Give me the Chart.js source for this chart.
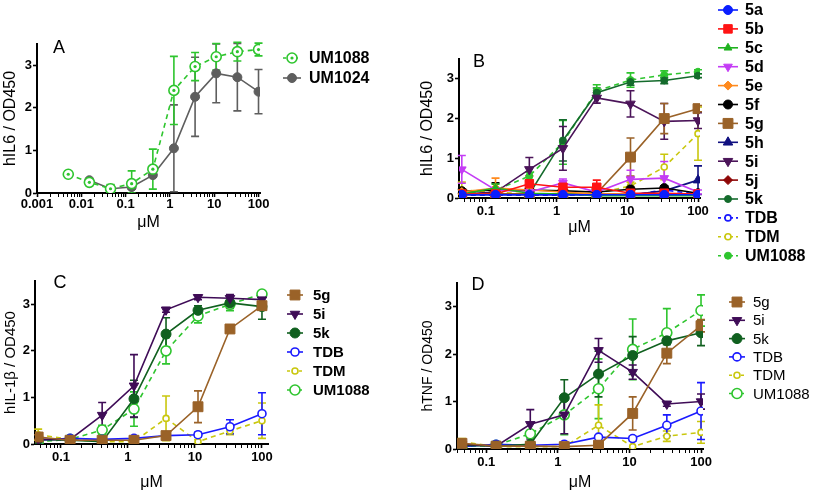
<!DOCTYPE html>
<html><head><meta charset="utf-8">
<script src="https://cdn.jsdelivr.net/npm/chart.js@4.4.1/dist/chart.umd.min.js"></script>
<style>
html,body{margin:0;padding:0;background:#fff;}
#wrap{position:relative;width:820px;height:494px;overflow:hidden;background:#fff;}
canvas{position:absolute;}
</style></head>
<body><div id="wrap">
<canvas id="cA" width="420" height="240" style="left:0;top:0"></canvas>
<canvas id="cB" width="400" height="262" style="left:420px;top:0"></canvas>
<canvas id="cC" width="420" height="254" style="left:0;top:240px"></canvas>
<canvas id="cD" width="400" height="254" style="left:420px;top:240px"></canvas>
</div>
<script>
// ---------- DATA ----------
// Panel A (hIL6)
const concA1088 = [0.00508, 0.0152, 0.0457, 0.137, 0.412, 1.23, 3.7, 11.1, 33.3, 100];
const valA1088  = [0.44, 0.25, 0.10, 0.22, 0.56, 2.41, 2.97, 3.20, 3.32, 3.37];
const errA1088  = [0.02, 0.03, 0.10, 0.30, 0.47, 0.80, 0.33, 0.31, 0.22, 0.15];
const concA1024 = [0.0152, 0.0457, 0.137, 0.412, 1.23, 3.7, 11.1, 33.3, 100];
const valA1024  = [0.30, 0.10, 0.14, 0.42, 1.05, 2.26, 2.81, 2.72, 2.38];
const errA1024  = [0.02, 0.08, 0.05, 0.05, 1.02, 0.93, 0.69, 0.79, 0.52];

// Panels B, C, D concentrations (uM)
const conc = [0.0457, 0.137, 0.412, 1.23, 3.7, 11.1, 33.3, 100];

// Panel B (hIL6)
const b5a = [0.08, 0.08, 0.08, 0.08, 0.08, 0.08, 0.08, 0.08];
const b5aErr = [0.02, 0.02, 0.02, 0.02, 0.02, 0.02, 0.02, 0.02];
const b5b = [0.10, 0.10, 0.36, 0.27, 0.27, 0.12, 0.12, 0.10];
const b5bErr = [0.03, 0.03, 0.20, 0.10, 0.18, 0.05, 0.05, 0.03];
const b5c = [0.10, 0.25, 0.12, 0.10, 0.06, 0.06, 0.06, 0.06];
const b5cErr = [0.03, 0.10, 0.05, 0.03, 0.02, 0.02, 0.02, 0.02];
const b5d = [0.72, 0.20, 0.15, 0.38, 0.15, 0.47, 0.50, 0.15];
const b5dErr = [0.35, 0.05, 0.05, 0.10, 0.05, 0.23, 0.42, 0.05];
const b5e = [0.15, 0.25, 0.20, 0.15, 0.10, 0.10, 0.10, 0.10];
const b5eErr = [0.05, 0.25, 0.05, 0.03, 0.02, 0.02, 0.02, 0.02];
const b5f = [0.17, 0.20, 0.20, 0.18, 0.15, 0.22, 0.25, 0.12];
const b5fErr = [0.05, 0.18, 0.05, 0.03, 0.03, 0.05, 0.06, 0.03];
const b5g = [0.10, 0.10, 0.10, 0.10, 0.12, 1.03, 2.00, 2.25];
const b5gErr = [0.02, 0.02, 0.02, 0.02, 0.03, 0.48, 0.38, 0.08];
const b5h = [0.08, 0.08, 0.08, 0.08, 0.08, 0.08, 0.18, 0.45];
const b5hErr = [0.02, 0.02, 0.02, 0.02, 0.02, 0.02, 0.05, 0.36];
const b5i = [0.10, 0.15, 0.72, 1.25, 2.52, 2.37, 1.93, 1.95];
const b5iErr = [0.03, 0.05, 0.30, 0.55, 0.13, 0.33, 0.45, 0.20];
const b5j = [0.10, 0.10, 0.10, 0.10, 0.10, 0.10, 0.10, 0.10];
const b5jErr = [0.02, 0.02, 0.02, 0.02, 0.02, 0.02, 0.02, 0.02];
const b5k = [0.10, 0.10, 0.10, 1.45, 2.65, 2.92, 2.96, 3.08];
const b5kErr = [0.02, 0.02, 0.02, 0.52, 0.12, 0.08, 0.08, 0.05];
const bTDB = [0.07, 0.07, 0.07, 0.07, 0.07, 0.07, 0.20, 0.10];
const bTDBErr = [0.02, 0.02, 0.02, 0.02, 0.02, 0.02, 0.03, 0.02];
const bTDM = [0.20, 0.15, 0.10, 0.10, 0.12, 0.30, 0.78, 1.62];
const bTDMErr = [0.20, 0.05, 0.03, 0.03, 0.03, 0.10, 0.32, 0.67];
const bUM1088 = [0.12, 0.20, 0.55, 1.40, 2.70, 2.97, 3.10, 3.18];
const bUM1088Err = [0.03, 0.05, 0.10, 0.55, 0.15, 0.18, 0.10, 0.05];

// Panel C (hIL-1b)
const c5g = [0.15, 0.08, 0.08, 0.08, 0.18, 0.80, 2.47, 2.97];
const c5gErr = [0.05, 0.02, 0.02, 0.02, 0.05, 0.34, 0.03, 0.05];
const c5i = [0.10, 0.10, 0.62, 1.25, 2.88, 3.15, 3.13, 3.10];
const c5iErr = [0.02, 0.02, 0.27, 0.67, 0.05, 0.05, 0.08, 0.05];
const c5k = [0.10, 0.08, 0.05, 0.97, 2.36, 2.87, 3.03, 2.95];
const c5kErr = [0.02, 0.02, 0.02, 0.40, 0.35, 0.10, 0.12, 0.27];
const cTDB = [0.08, 0.12, 0.10, 0.12, 0.18, 0.20, 0.37, 0.65];
const cTDBErr = [0.02, 0.03, 0.02, 0.02, 0.03, 0.05, 0.15, 0.45];
const cTDM = [0.20, 0.10, 0.05, 0.05, 0.55, 0.05, 0.28, 0.50];
const cTDMErr = [0.12, 0.03, 0.02, 0.02, 0.48, 0.03, 0.08, 0.38];
const cUM1088 = [0.05, 0.10, 0.30, 0.75, 2.00, 2.75, 3.00, 3.22];
const cUM1088Err = [0.02, 0.03, 0.10, 0.37, 0.28, 0.15, 0.14, 0.05];

// Panel D (hTNF)
const d5g = [0.12, 0.06, 0.06, 0.05, 0.08, 0.75, 2.02, 2.60];
const d5gErr = [0.03, 0.02, 0.02, 0.02, 0.02, 0.35, 0.22, 0.13];
const d5i = [0.10, 0.06, 0.52, 0.72, 2.08, 1.62, 0.95, 1.00];
const d5iErr = [0.03, 0.02, 0.31, 0.40, 0.25, 0.15, 0.05, 0.16];
const d5k = [0.08, 0.06, 0.10, 1.08, 1.58, 1.97, 2.28, 2.45];
const d5kErr = [0.02, 0.02, 0.02, 0.38, 0.48, 0.40, 0.08, 0.27];
const dTDB = [0.05, 0.10, 0.08, 0.10, 0.25, 0.22, 0.50, 0.80];
const dTDBErr = [0.02, 0.02, 0.02, 0.02, 0.03, 0.05, 0.22, 0.60];
const dTDM = [0.15, 0.05, 0.05, 0.05, 0.50, 0.05, 0.27, 0.35];
const dTDMErr = [0.07, 0.02, 0.02, 0.02, 0.43, 0.02, 0.11, 0.23];
const dUM1088 = [0.05, 0.08, 0.32, 0.72, 1.27, 2.10, 2.45, 2.92];
const dUM1088Err = [0.02, 0.02, 0.05, 0.42, 0.63, 0.64, 0.51, 0.33];

const yTicks = [0, 1, 2, 3];
const xTickLabels = ['0.001', '0.01', '0.1', '1', '10', '100'];

// ---------- STYLES ----------
const FONT = "Arial, 'Liberation Sans', Helvetica, sans-serif";
const COL = {
  um1088: '#2ec52e', um1024: '#5e5e5e', a: '#0a1eff', b: '#ff1414', c: '#1fb21f', d: '#c43cf5',
  e: '#ff8a1e', f: '#000000', g: '#9a6228', h: '#101080', i: '#4b1459', j: '#8e0606',
  k: '#146b2c', tdb: '#1a1aff', tdm: '#c9c70e'
};

function pts(xs, ys) { return xs.map((x, i) => ({x: x, y: ys[i]})); }

function ds(label, xs, ys, err, color, o) {
  o = o || {};
  return {
    label: label, data: pts(xs, ys), err: err,
    borderColor: color, backgroundColor: o.open ? '#ffffff' : color,
    pointBorderColor: color, pointBackgroundColor: o.open ? '#ffffff' : color,
    borderWidth: o.lw || 1.6, borderDash: o.dash ? [5, 4] : [],
    pointStyle: o.style || 'circle', pointRotation: o.rot || 0,
    pointRadius: o.r || 4, pointBorderWidth: o.open ? 1.6 : 1,
    dot: !!o.dot, tension: 0, fill: false
  };
}

function isPow10(v) { const l = Math.log10(v); return Math.abs(l - Math.round(l)) < 1e-6; }
function fmt(v) { const l = Math.round(Math.log10(v)); return l >= 0 ? String(Math.round(v)) : v.toFixed(-l); }

// error bars + center dots
const errPlugin = {
  id: 'errbars',
  beforeDatasetsDraw(chart) {
    const ctx = chart.ctx, xs = chart.scales.x, ys = chart.scales.y, a = chart.chartArea;
    ctx.save();
    ctx.beginPath(); ctx.rect(a.left - 10, a.top - 10, a.right - a.left + 20, a.bottom - a.top + 10); ctx.clip();
    for (let di = chart.data.datasets.length - 1; di >= 0; di--) {
      const d = chart.data.datasets[di];
      if (!d.err) continue;
      ctx.strokeStyle = d.borderColor; ctx.lineWidth = 1.6; ctx.setLineDash([]);
      d.data.forEach((p, i) => {
        const e = d.err[i]; if (!e || e < 0.04) return;
        const px = xs.getPixelForValue(p.x);
        const y1 = ys.getPixelForValue(p.y + e), y2 = ys.getPixelForValue(Math.max(0, p.y - e));
        ctx.beginPath();
        ctx.moveTo(px, y1); ctx.lineTo(px, y2);
        ctx.moveTo(px - 4, y1); ctx.lineTo(px + 4, y1);
        ctx.moveTo(px - 4, y2); ctx.lineTo(px + 4, y2);
        ctx.stroke();
      });
    }
    ctx.restore();
  },
  afterDatasetsDraw(chart) {
    const ctx = chart.ctx;
    chart.data.datasets.forEach((d, di) => {
      if (!d.dot) return;
      const meta = chart.getDatasetMeta(di);
      ctx.save(); ctx.fillStyle = d.borderColor;
      meta.data.forEach(el => { ctx.beginPath(); ctx.arc(el.x, el.y, 1.6, 0, Math.PI * 2); ctx.fill(); });
      ctx.restore();
    });
  }
};

function drawMarker(ctx, d, x, y) {
  ctx.save();
  ctx.fillStyle = d.pointBackgroundColor; ctx.strokeStyle = d.pointBorderColor; ctx.lineWidth = d.pointBorderWidth;
  ctx.setLineDash([]);
  if (Chart.helpers && Chart.helpers.drawPoint) {
    Chart.helpers.drawPoint(ctx, {pointStyle: d.pointStyle, rotation: d.pointRotation, radius: d.pointRadius, borderWidth: d.pointBorderWidth}, x, y);
  } else {
    ctx.beginPath(); ctx.arc(x, y, d.pointRadius, 0, Math.PI * 2); ctx.fill(); ctx.stroke();
  }
  if (d.dot) { ctx.fillStyle = d.borderColor; ctx.beginPath(); ctx.arc(x, y, 1.6, 0, Math.PI * 2); ctx.fill(); }
  ctx.restore();
}

const legendPlugin = {
  id: 'sideLegend',
  afterDraw(chart, args, o) {
    const ctx = chart.ctx;
    chart.data.datasets.forEach((d, i) => {
      const y = o.y0 + i * o.dy;
      ctx.save();
      ctx.strokeStyle = d.borderColor; ctx.lineWidth = d.borderWidth;
      ctx.setLineDash(d.borderDash.length ? [3, 3] : []);
      ctx.beginPath(); ctx.moveTo(o.cx - o.half, y); ctx.lineTo(o.cx + o.half, y); ctx.stroke();
      ctx.restore();
      drawMarker(ctx, d, o.cx, y);
      ctx.save();
      ctx.fillStyle = '#000'; ctx.font = o.font; ctx.textBaseline = 'middle'; ctx.textAlign = 'left';
      ctx.fillText(d.label, o.tx, y + 1);
      ctx.restore();
    });
    if (o.panel) {
      ctx.save(); ctx.fillStyle = '#000'; ctx.font = '18px ' + FONT; ctx.textAlign = 'center'; ctx.textBaseline = 'middle';
      ctx.fillText(o.panel[0], o.panel[1], o.panel[2]); ctx.restore();
    }
  }
};

function build(id, g, datasets, lg) {
  const tickFont = {family: FONT, size: 13, weight: 'bold'};
  return new Chart(document.getElementById(id), {
    type: 'line',
    data: {datasets: datasets},
    plugins: [errPlugin, legendPlugin],
    options: {
      responsive: false, animation: false, devicePixelRatio: 1,
      layout: {autoPadding: false, padding: {left: 0, top: g.top, right: g.W - g.right, bottom: 0}},
      plugins: {legend: {display: false}, tooltip: {enabled: false}, sideLegend: lg},
      elements: {line: {tension: 0}},
      scales: {
        x: {
          type: 'logarithmic', min: g.xmin, max: g.xmax,
          afterFit: s => { s.height = g.H - g.bottom; },
          afterBuildTicks: s => {
            const out = [];
            for (let e = Math.floor(Math.log10(g.xmin)); e <= Math.ceil(Math.log10(g.xmax)); e++) {
              for (let m = 1; m <= 9; m++) {
                const v = +(m * Math.pow(10, e)).toPrecision(6);
                if (v >= g.xmin * 0.9999 && v <= g.xmax) out.push({value: v, major: m === 1});
              }
            }
            s.ticks = out;
          },
          border: {display: true, color: '#000', width: 2},
          grid: {display: true, drawOnChartArea: false, drawTicks: true, tickLength: 4, tickColor: '#000',
                 tickWidth: c => (c.tick && isPow10(c.tick.value)) ? 1.6 : 1},
          ticks: {autoSkip: false, maxRotation: 0, minRotation: 0, padding: g.xpad, color: '#000', font: tickFont,
                  callback: v => isPow10(v) && xTickLabels.includes(fmt(v)) ? fmt(v) : ''},
          title: {display: true, text: 'μM', color: '#000', font: {family: FONT, size: 16, lineHeight: 1},
                  padding: {top: 0, bottom: g.xtp}}
        },
        y: {
          type: 'linear', min: 0, max: 3.5,
          afterFit: s => { s.width = g.left; },
          afterBuildTicks: s => { s.ticks = yTicks.map(v => ({value: v})); },
          border: {display: true, color: '#000', width: 2},
          grid: {display: true, drawOnChartArea: false, drawTicks: true, tickLength: 4, tickColor: '#000', tickWidth: 1.6},
          ticks: {padding: 1, color: '#000', font: tickFont, callback: v => String(v)},
          title: {display: true, text: g.ytitle, color: '#000', font: {family: FONT, size: g.yts, lineHeight: 1},
                  padding: {top: g.ytp, bottom: 0}}
        }
      }
    }
  });
}

// Panel A
build('cA', {W: 420, H: 240, left: 37, right: 260, top: 44, bottom: 193, xmin: 0.001, xmax: 108, xpad: 0, xtp: 9,
             ytitle: 'hIL6 / OD450', yts: 16, ytp: 3}, [
  ds('UM1088', concA1088, valA1088, errA1088, COL.um1088, {dash: true, open: true, dot: true, r: 5}),
  ds('UM1024', concA1024, valA1024, errA1024, COL.um1024, {r: 4.5})
], {cx: 292, half: 9, tx: 309, y0: 58, dy: 20, font: 'bold 16px ' + FONT, panel: ['A', 59, 48]});

// Panel B
build('cB', {W: 400, H: 262, left: 39, right: 280, top: 59, bottom: 198, xmin: 0.0417, xmax: 106.7, xpad: 2, xtp: 26,
             ytitle: 'hIL6 / OD450', yts: 16, ytp: 0}, [
  ds('5a', conc, b5a, b5aErr, COL.a, {r: 4.5}),
  ds('5b', conc, b5b, b5bErr, COL.b, {style: 'rect', r: 6}),
  ds('5c', conc, b5c, b5cErr, COL.c, {style: 'triangle', r: 4.5}),
  ds('5d', conc, b5d, b5dErr, COL.d, {style: 'triangle', rot: 180, r: 5}),
  ds('5e', conc, b5e, b5eErr, COL.e, {style: 'rectRot', r: 4.5}),
  ds('5f', conc, b5f, b5fErr, COL.f, {r: 4.5}),
  ds('5g', conc, b5g, b5gErr, COL.g, {style: 'rect', r: 7}),
  ds('5h', conc, b5h, b5hErr, COL.h, {style: 'triangle', r: 5.5}),
  ds('5i', conc, b5i, b5iErr, COL.i, {style: 'triangle', rot: 180, r: 5.5}),
  ds('5j', conc, b5j, b5jErr, COL.j, {style: 'rectRot', r: 4.5}),
  ds('5k', conc, b5k, b5kErr, COL.k, {r: 3.5}),
  ds('TDB', conc, bTDB, bTDBErr, COL.tdb, {dash: true, open: true, r: 3}),
  ds('TDM', conc, bTDM, bTDMErr, COL.tdm, {dash: true, open: true, r: 3}),
  ds('UM1088', conc, bUM1088, bUM1088Err, COL.um1088, {dash: true, r: 3.5})
], {cx: 308, half: 10, tx: 325, y0: 10, dy: 18.9, font: 'bold 16px ' + FONT, panel: ['B', 59, 62]});

// Panel C
build('cC', {W: 420, H: 254, left: 35, right: 268, top: 41, bottom: 204, xmin: 0.041, xmax: 123, xpad: 2, xtp: 3,
             ytitle: 'hIL-1β / OD450', yts: 15, ytp: 3}, [
  ds('5g', conc, c5g, c5gErr, COL.g, {style: 'rect', r: 7}),
  ds('5i', conc, c5i, c5iErr, '#3f0c57', {style: 'triangle', rot: 180, r: 5.5}),
  ds('5k', conc, c5k, c5kErr, '#10601f', {r: 5}),
  ds('TDB', conc, cTDB, cTDBErr, COL.tdb, {open: true, r: 4}),
  ds('TDM', conc, cTDM, cTDMErr, COL.tdm, {dash: true, open: true, r: 3}),
  ds('UM1088', conc, cUM1088, cUM1088Err, COL.um1088, {dash: true, open: true, r: 5})
], {cx: 295, half: 8, tx: 313, y0: 55, dy: 19, font: 'bold 15px ' + FONT, panel: ['C', 60, 43]});

// Panel D
build('cD', {W: 400, H: 254, left: 37, right: 283, top: 43, bottom: 209, xmin: 0.039, xmax: 106.6, xpad: 2, xtp: 3,
             ytitle: 'hTNF / OD450', yts: 14, ytp: 1}, [
  ds('5g', conc, d5g, d5gErr, COL.g, {style: 'rect', r: 7}),
  ds('5i', conc, d5i, d5iErr, '#3f0c57', {style: 'triangle', rot: 180, r: 5.5}),
  ds('5k', conc, d5k, d5kErr, '#10601f', {r: 5}),
  ds('TDB', conc, dTDB, dTDBErr, COL.tdb, {open: true, r: 4}),
  ds('TDM', conc, dTDM, dTDMErr, COL.tdm, {dash: true, open: true, r: 3}),
  ds('UM1088', conc, dUM1088, dUM1088Err, COL.um1088, {dash: true, open: true, r: 5})
], {cx: 317, half: 8, tx: 333, y0: 62, dy: 18.3, font: '15px ' + FONT, panel: ['D', 58, 45]});
</script>
</body></html>
